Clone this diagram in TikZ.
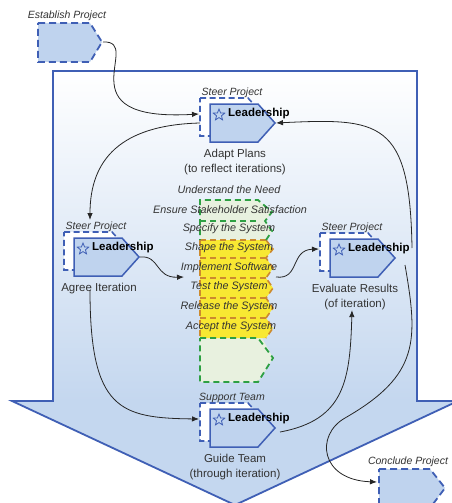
\documentclass[tikz,border=0pt]{standalone}
\usepackage{fontspec}
\setmainfont{Liberation Sans}
\usetikzlibrary{arrows.meta,shapes.geometric,calc}
\definecolor{bblue}{HTML}{3F5FB5}
\definecolor{fblue}{HTML}{BFD3EE}
\definecolor{headblue}{HTML}{C4D7EF}
\definecolor{lgreen}{HTML}{E8F1DF}
\definecolor{dgreen}{HTML}{2EA043}
\definecolor{yel}{HTML}{F8E832}
\definecolor{orng}{HTML}{CC8A2E}
\definecolor{txt}{HTML}{333333}

\tikzset{
 solidbox/.style={draw=bblue,fill=fblue,line width=1.5pt,line join=miter},
 dashbox/.style={draw=bblue,fill=white,line width=1.6pt,dash pattern=on 6pt off 3.5pt},
 extbox/.style={draw=bblue,fill=fblue,line width=1.8pt,dash pattern=on 7pt off 4pt},
 lead/.style={font=\fontsize{11.5}{13}\selectfont\bfseries,text=black,inner sep=0,anchor=west},
 role/.style={font=\fontsize{10.5}{12}\selectfont\itshape,text=txt,inner sep=0},
 act/.style={font=\fontsize{11.5}{15}\selectfont,text=txt,inner sep=0,align=center,anchor=north},
 phase/.style={font=\fontsize{10.8}{12}\selectfont\itshape,text=txt,inner sep=0},
 staricon/.style={star,star points=5,star point ratio=2.3,draw=bblue,line width=0.8pt,minimum size=12pt,inner sep=0},
 conn/.style={draw=black!85,line width=0.8pt,-{Latex[length=7pt,width=5.5pt]}},
 greendash/.style={draw=dgreen,line width=1.8pt,dash pattern=on 6pt off 4pt},
 orangedash/.style={draw=orng,line width=1.6pt,dash pattern=on 6pt off 4pt},
}

\newcommand\leadact[5]{%
 \begin{scope}[shift={(#2,#3)}]
  \draw[dashbox] (-10,-6) -- (38,-6) -- (55,13) -- (38,32) -- (-10,32) -- cycle;
  \draw[solidbox] (0,0) -- (48,0) -- (65,19) -- (48,38) -- (0,38) -- cycle;
  \node[staricon] (#1-star) at (9,11) {};
  \node[lead] (#1-lead) at (18,10) {Leadership};
  \node[role] (#1-role) at (22,-11) {#4};
  \node[act] (#1-act) at (25,45) {#5};
  \coordinate (#1-in) at (-11,10);
  \coordinate (#1-in2) at (-10,19);
  \coordinate (#1-above) at (16,-18);
  \coordinate (#1-tip) at (66,19);
  \coordinate (#1-up) at (82,9);
  \coordinate (#1-down) at (75,26);
 \end{scope}}

\begin{document}
\begin{tikzpicture}[x=1pt,y=-1pt]
\useasboundingbox (0,0) rectangle (451,503);
\fill[white] (0,0) rectangle (451,503);

% big arrow
\begin{scope}
 \clip (53,71) -- (417,71) -- (417,401) -- (458,401) -- (235,505) -- (12,401) -- (53,401) -- cycle;
 \fill[top color=white,bottom color=headblue] (10,71) rectangle (460,401);
 \fill[headblue] (0,400) rectangle (460,510);
\end{scope}
\draw[bblue,line width=1.8pt,line join=miter] (53,71) -- (417,71) -- (417,401) -- (458,401) -- (235,505) -- (12,401) -- (53,401) -- cycle;

% central column
\fill[lgreen] (200,200) -- (258,200) -- (272,212) -- (265,221) -- (272,231) -- (266,240) -- (266,338) -- (262,338) -- (273,358) -- (258,382) -- (200,382) -- cycle;
\fill[yel] (200,240) -- (266,240) -- (273,249) -- (266,258) -- (273,268) -- (266,278) -- (273,288) -- (266,298) -- (273,308) -- (266,318) -- (273,328) -- (266,338) -- (200,338) -- cycle;
\draw[orangedash] (200,240) -- (266,240);
\draw[orangedash] (200,258) -- (266,258);
\draw[orangedash] (200,278) -- (266,278);
\draw[orangedash] (200,298) -- (266,298);
\draw[orangedash] (200,318) -- (266,318);
\draw[orangedash] (266,240) -- (273,249) -- (266,258) -- (273,268) -- (266,278) -- (273,288) -- (266,298) -- (273,308) -- (266,318) -- (273,328) -- (266,338);
\draw[orangedash] (200,240) -- (200,338);
\draw[greendash] (266,240) -- (272,231) -- (265,221) -- (272,212) -- (258,200) -- (200,200) -- (200,240);
\draw[greendash] (200,221) -- (258,221);
\draw[greendash] (200,338) -- (258,338) -- (273,358) -- (258,382) -- (200,382) -- cycle;

\node[phase] (ph1) at (229,190) {Understand the Need};
\node[phase] (ph2) at (230,210) {Ensure Stakeholder Satisfaction};
\node[phase] (ph3) at (229,229) {Specify the System};
\node[phase] (ph4) at (229,248) {Shape the System};
\node[phase] (ph5) at (229,268) {Implement Software};
\node[phase] (ph6) at (229,287) {Test the System};
\node[phase] (ph7) at (229,307) {Release the System};
\node[phase] (ph8) at (231,327) {Accept the System};
\coordinate (colin) at (184,277);
\coordinate (colout) at (276,277);

% external activities
\draw[extbox] (38,23) -- (90,23) -- (102,42) -- (90,62) -- (38,62) -- cycle;
\node[role] (establish-lbl) at (67,16) {Establish Project};
\coordinate (establish-tip) at (103,42);
\draw[extbox] (379,469) -- (430,469) -- (445,488) -- (430,508) -- (379,508) -- cycle;
\node[role] (conclude-lbl) at (408,462) {Conclude Project};
\coordinate (conclude-in) at (377,482);

% leadership activities
\leadact{adapt}{210}{104}{Steer Project}{Adapt Plans\\(to reflect iterations)}
\leadact{agree}{74}{238}{Steer Project}{Agree Iteration}
\leadact{evaluate}{330}{239}{Steer Project}{Evaluate Results\\(of iteration)}
\leadact{guide}{210}{409}{Support Team}{Guide Team\\(through iteration)}

% connectors
\draw[conn] (establish-tip) .. controls (145,40) and (60,122) .. (adapt-in);
\draw[conn] (adapt-in2) .. controls (120,125) and (90,160) .. (agree-above);
\draw[conn] (agree-tip) .. controls (160,255) and (155,278) .. (colin);
\draw[conn] (colout) .. controls (300,280) and (290,250) .. (evaluate-in);
\draw[conn] (evaluate-up) .. controls (410,120) and (380,118) .. (adapt-tip);
\draw[conn] (evaluate-down) .. controls (418,340) and (420,375) .. (345,418) .. controls (315,435) and (320,480) .. (conclude-in);
\draw[conn] ($(agree-act.south)+(-9,-4)$) .. controls (90,410) and (120,418) .. (guide-in);
\draw[conn] ($(guide-tip)+(4,4)$) .. controls (345,420) and (350,380) .. ($(evaluate-act.south)+(-3,0)$);
\end{tikzpicture}
\end{document}
